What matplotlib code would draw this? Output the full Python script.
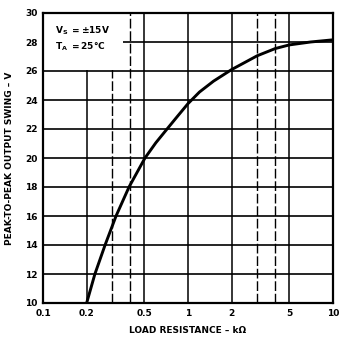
import matplotlib
matplotlib.use("Agg")
import matplotlib.pyplot as plt
from matplotlib.patches import Rectangle

# curve
load_kohm = [0.2, 0.228, 0.268, 0.319, 0.392, 0.505, 0.6, 0.717, 0.85, 1.0,
             1.2, 1.5, 2.0, 3.0, 4.0, 5.0, 7.0, 10.0]
swing_v = [10, 12, 14, 16, 18, 20, 21.05, 22, 22.9, 23.75,
           24.55, 25.3, 26.1, 27.05, 27.55, 27.8, 28.0, 28.15]

x_ticks = [0.1, 0.2, 0.5, 1, 2, 5, 10]
x_tick_labels = ["0.1", "0.2", "0.5", "1", "2", "5", "10"]
x_grid_solid = [0.2, 0.5, 1, 2, 5]
x_grid_dashed = [0.3, 0.4, 3, 4]
y_ticks = [10, 12, 14, 16, 18, 20, 22, 24, 26, 28, 30]

fig = plt.figure(figsize=(3.4, 3.38), dpi=100)
ax = fig.add_axes([43 / 340, 35 / 338, 290 / 340, 290 / 338])

ax.set_xscale("log")
ax.set_xlim(0.1, 10)
ax.set_ylim(10, 30)

for xv in x_grid_solid:
    ax.axvline(xv, color="black", lw=1.1, zorder=1)
for xv in x_grid_dashed:
    ax.axvline(xv, color="black", lw=1.0, ls=(0, (7, 2)), zorder=1)
for yv in y_ticks[1:-1]:
    ax.axhline(yv, color="black", lw=1.2, zorder=1)

# white patch behind the conditions text
ax.add_patch(Rectangle((0.0, 0.805), 0.276, 0.195, transform=ax.transAxes,
                       facecolor="white", edgecolor="none", zorder=2))
ax.text(0.1 * 10 ** 0.08, 28.75, r"$\mathbf{V_S}$ $\mathbf{= \pm 15V}$", fontsize=6.5,
        fontweight="bold", zorder=3, va="center")
ax.text(0.1 * 10 ** 0.08, 27.7, r"$\mathbf{T_A}$ $\mathbf{= 25°C}$", fontsize=6.5,
        fontweight="bold", zorder=3, va="center")

ax.plot(load_kohm, swing_v, color="black", lw=2.1, zorder=4)

ax.set_xticks(x_ticks)
ax.set_xticklabels(x_tick_labels)
ax.xaxis.set_minor_locator(matplotlib.ticker.NullLocator())
ax.set_yticks(y_ticks)
ax.tick_params(length=0, labelsize=6.5, pad=4)
for lbl in ax.get_xticklabels() + ax.get_yticklabels():
    lbl.set_fontweight("bold")

for s in ax.spines.values():
    s.set_linewidth(1.6)

ax.set_xlabel("LOAD RESISTANCE – kΩ", fontsize=6.5, fontweight="bold", labelpad=6)
ax.set_ylabel("PEAK-TO-PEAK OUTPUT SWING – V", fontsize=6.5, fontweight="bold", labelpad=8)

fig.savefig("out.png", dpi=100)
